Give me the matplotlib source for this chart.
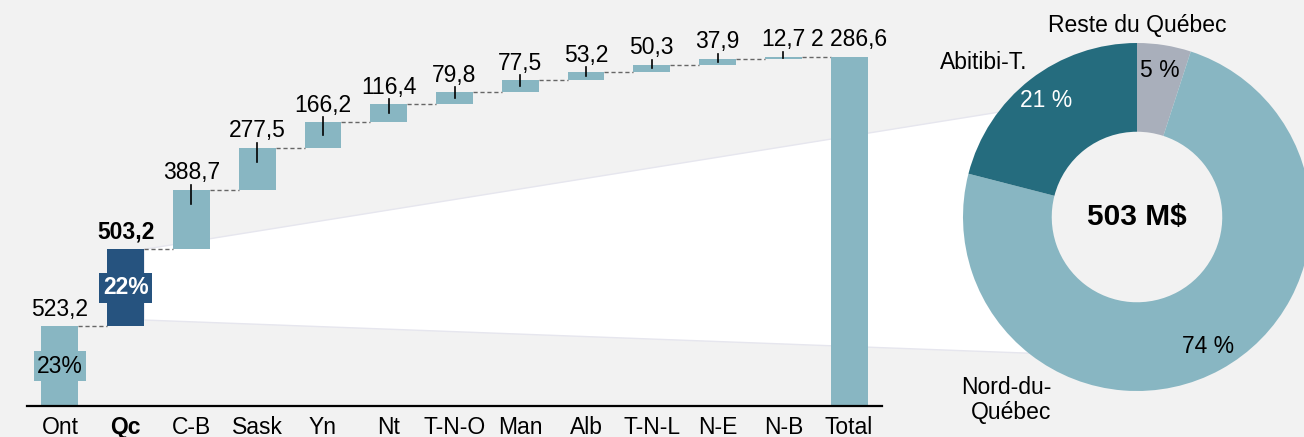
import matplotlib.pyplot as plt
import numpy as np
from matplotlib.patches import Polygon

plt.rcParams['font.family'] = ['Liberation Sans', 'DejaVu Sans']

# ---------- données ----------
regions = ['Ont', 'Qc', 'C-B', 'Sask', 'Yn', 'Nt', 'T-N-O', 'Man', 'Alb', 'T-N-L', 'N-E', 'N-B', 'Total']
values = [523.2, 503.2, 388.7, 277.5, 166.2, 116.4, 79.8, 77.5, 53.2, 50.3, 37.9, 12.7]
bar_pcts = ['23%', '22%']

qc_names = ['Reste du Québec', 'Nord-du-\nQuébec', 'Abitibi-T.']
qc_shares = [5, 74, 21]
qc_total = '503 M$'

# ---------- couleurs ----------
bg = '#f2f2f2'
light = '#88b6c2'
dark_blue = '#26537f'
teal = '#256c7e'
grey = '#a9afbb'


def fmt(v):
    return f'{v:,.1f}'.replace(',', ' ').replace('.', ',')


total = sum(values)
tops = np.cumsum(values)
bottoms = tops - np.array(values)

fig = plt.figure(figsize=(13.04, 4.37), dpi=100, facecolor=bg)
ax = fig.add_axes([27 / 1304, 31 / 437, 855 / 1304, 396 / 437], zorder=2)
ax.set_facecolor('none')
ymax = 2594
ax.set_xlim(-0.5, 12.5)
ax.set_ylim(0, ymax)
px = ymax / 396  # une unité pixel en valeur

w = 0.56
x = np.arange(len(regions))
colors = [light] * len(regions)
colors[1] = dark_blue

ax.bar(x[:-1], values, bottom=bottoms, width=w, color=colors[:-1], zorder=3)
ax.bar(x[-1], total, width=w, color=light, zorder=3)

# lignes pointillées entre les barres
for i in range(len(values)):
    ax.plot([x[i] + w / 2, x[i + 1] - w / 2], [tops[i], tops[i]],
            color='#666666', lw=1, ls=(0, (3, 2)), zorder=2)

# étiquettes de valeurs
for i, v in enumerate(values):
    ax.annotate(fmt(v), (x[i], tops[i]), xytext=(0, 4), textcoords='offset points',
                ha='center', va='bottom', fontsize=16.5,
                fontweight='bold' if i == 1 else 'normal', zorder=5)
    if i >= 2:
        ax.plot([x[i], x[i]], [tops[i] + 5 * px, tops[i] - min(values[i] / 2, 14 * px)],
                color='black', lw=1.2, zorder=4)
ax.annotate(fmt(total), (x[-1], total), xytext=(0, 4), textcoords='offset points',
            ha='center', va='bottom', fontsize=16.5, zorder=5)

# pourcentages sur Ont et Qc
ax.text(x[0], values[0] / 2, bar_pcts[0], ha='center', va='center', fontsize=16.5,
        color='black', zorder=5,
        bbox=dict(boxstyle='square,pad=0.15', fc=light, ec='none'))
ax.text(x[1], bottoms[1] + values[1] / 2, bar_pcts[1], ha='center', va='center', fontsize=16.5,
        color='white', fontweight='bold', zorder=5,
        bbox=dict(boxstyle='square,pad=0.15', fc=dark_blue, ec='none'))

for s in ['top', 'right', 'left']:
    ax.spines[s].set_visible(False)
ax.spines['bottom'].set_linewidth(1.6)
ax.spines['bottom'].set_zorder(6)
ax.set_yticks([])
ax.set_xticks(x)
ax.set_xticklabels(regions, fontsize=16.5)
ax.get_xticklabels()[1].set_fontweight('bold')
ax.tick_params(axis='x', length=0, pad=7)

# ---------- anneau ----------
ax2 = fig.add_axes([963 / 1304, 46 / 437, 348 / 1304, 348 / 437], zorder=2)
ax2.set_facecolor('none')
wedges, _, autotexts = ax2.pie(qc_shares, colors=[grey, light, teal], startangle=90,
                               counterclock=False, radius=1,
                               wedgeprops=dict(width=0.51, edgecolor='none'),
                               autopct=lambda p: f'{p:.0f} %', pctdistance=0.85,
                               textprops=dict(fontsize=16.5))
autotexts[2].set_color('white')
ax2.set_xlim(-1, 1)
ax2.set_ylim(-1, 1)
ax2.text(0, 0, qc_total, ha='center', va='center', fontsize=21.5, fontweight='bold')
ax2.text(0, 1.10, qc_names[0], ha='center', va='center', fontsize=16.5)
ax2.text(-0.49, -1.05, qc_names[1], ha='right', va='center', fontsize=16.5, linespacing=1.1)
ax2.text(-0.63, 0.89, qc_names[2], ha='right', va='center', fontsize=16.5)

# ---------- zone blanche reliant Qc à l'anneau ----------
to_fig = fig.transFigure.inverted()
p1 = to_fig.transform(ax.transData.transform((x[1] + w / 2, tops[1])))
p2 = to_fig.transform(ax.transData.transform((x[1] + w / 2, bottoms[1] + 40)))
a1, a2 = np.radians(143), np.radians(231.5)
p3 = to_fig.transform(ax2.transData.transform((np.cos(a1), np.sin(a1))))
p4 = to_fig.transform(ax2.transData.transform((np.cos(a2), np.sin(a2))))
fig.patches.append(Polygon([p1, p3, p4, p2], closed=True, transform=fig.transFigure,
                           fc='white', ec='#e6e6ee', lw=1, zorder=0))

fig.savefig('out.png', dpi=100, facecolor=bg)
